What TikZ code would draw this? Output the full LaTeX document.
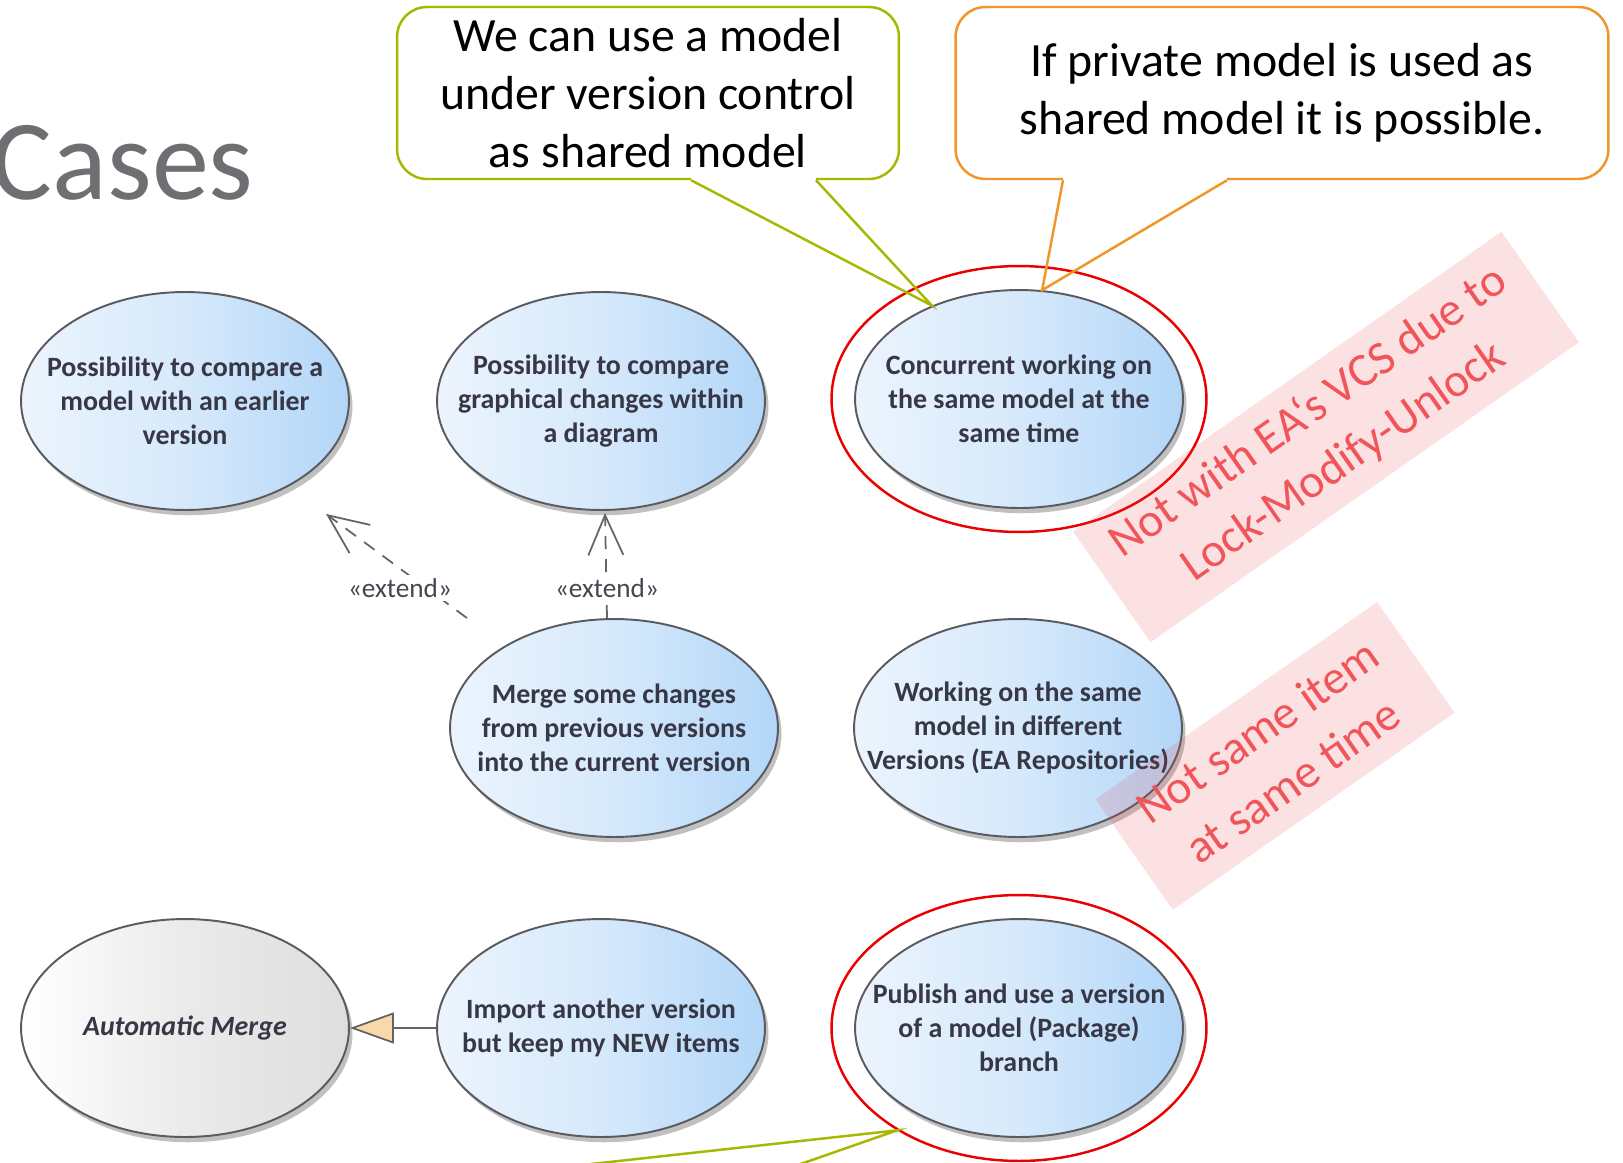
\documentclass[tikz,border=0pt]{standalone}
\usepackage{fontspec}
\setmainfont{Carlito}
\usetikzlibrary{arrows.meta,calc,shadows,shapes.geometric}

\definecolor{caseline}{RGB}{90,90,95}
\definecolor{casetext}{RGB}{55,55,70}
\definecolor{caseleft}{RGB}{236,244,253}
\definecolor{casemid}{RGB}{214,233,251}
\definecolor{caseright}{RGB}{178,214,248}
\definecolor{mergeright}{RGB}{222,222,222}
\definecolor{labeltext}{RGB}{70,70,80}
\definecolor{linegray}{RGB}{100,100,100}
\definecolor{genfill}{RGB}{248,218,170}
\definecolor{ringred}{RGB}{235,0,0}
\definecolor{calloutgreen}{RGB}{166,184,0}
\definecolor{calloutorange}{RGB}{240,150,40}
\definecolor{stampred}{RGB}{240,60,70}
\definecolor{stamptext}{RGB}{240,85,90}
\definecolor{titlegray}{RGB}{110,111,114}

\begin{document}
\begin{tikzpicture}[
	x=0.02cm, y=-0.02cm,
	usecase/.style={
		ellipse,
		draw=caseline,
		line width=1.1pt,
		minimum width=6.56cm,
		minimum height=4.36cm,
		inner xsep=-1cm,
		inner ysep=0pt,
		align=center,
		text=casetext,
		left color=caseleft,
		right color=caseright,
		middle color=casemid,
		drop shadow={shadow xshift=2pt, shadow yshift=-3pt, opacity=0.35, fill=black!70},
		font=\fontsize{15.9}{19.3}\selectfont\bfseries
	},
	abstract/.style={
		usecase,
		left color=white,
		right color=mergeright,
		middle color=white!92!black,
		font=\fontsize{15.9}{19.3}\selectfont\bfseries\itshape
	},
	ring/.style={
		ellipse,
		draw=ringred,
		line width=1.4pt,
		minimum width=7.5cm,
		minimum height=5.32cm
	},
	extendline/.style={
		draw=linegray,
		line width=1pt,
		dash pattern=on 0.26cm off 0.2cm,
		-{Straight Barb[length=0.8cm, width=0.7cm, line width=1pt]}
	},
	extlabel/.style={
		fill=white,
		inner sep=2pt,
		text=labeltext,
		font=\fontsize{15.5}{18}\selectfont
	},
	genline/.style={
		draw=linegray,
		line width=1.5pt,
		-{Triangle[length=0.88cm, width=0.62cm, fill=genfill, line width=1pt]}
	},
	callout/.style={
		draw,
		rectangle,
		rounded corners=0.6cm,
		line width=1.4pt,
		fill=white,
		align=center,
		minimum height=3.44cm,
		font=\fontsize{27.2}{32.9}\selectfont
	},
	pointer/.style={
		line width=1.4pt,
		line join=miter
	},
	stamp/.style={
		rectangle,
		fill=stampred,
		fill opacity=0.15,
		text opacity=1,
		text=stamptext,
		align=center,
		inner sep=0pt,
		minimum height=2.7cm,
		rotate=35,
		font=\fontsize{27}{34.6}\selectfont
	}
]
\useasboundingbox (0,0) rectangle (1623,1163);
\clip (0,0) rectangle (1623,1163);
\fill[white] (0,0) rectangle (1623,1163);

\node[anchor=base east, inner sep=0pt, text=titlegray, font=\fontsize{65}{65}\selectfont] (title) at (254,199) {Cases};

\node[usecase] (cmpmodel) at (185,401) {Possibility to compare a\\model with an earlier\\version};
\node[usecase] (cmpdiag) at (601,401) {Possibility to compare\\graphical changes within\\a diagram};
\node[usecase] (concurrent) at (1019,399) {Concurrent working on\\the same model at the\\same time};
\node[usecase] (merge) at (614,728) {Merge some changes\\from previous versions\\into the current version};
\node[usecase] (versions) at (1018,728) {Working on the same\\model in different\\Versions (EA Repositories)};
\node[abstract] (automerge) at (185,1028) {Automatic Merge};
\node[usecase] (import) at (601,1028) {Import another version\\but keep my NEW items};
\node[usecase] (publish) at (1019,1028) {Publish and use a version\\of a model (Package)\\branch};

\node[ring] (concring) at (concurrent) {};
\node[ring] (pubring) at (publish) {};

\draw[extendline] ($(merge.north)+(-147,0)$) -- ($(cmpmodel.south)+(141,3)$);
\draw[extendline] ($(merge.north)+(-7,0)$) -- ($(cmpdiag.south)+(4,2)$);
\node[extlabel] (ext1) at (400,588) {«extend»};
\node[extlabel] (ext2) at (607,588) {«extend»};

\draw[genline] (import) -- (automerge);

\node[callout, draw=calloutgreen, minimum width=10.04cm] (vcnote) at (648,93) {We can use a model\\under version control\\as shared model};
\node[callout, draw=calloutorange, minimum width=13.06cm] (privnote) at (1282,93) {If private model is used as\\shared model it is possible.};

\fill[white] ($(vcnote.south)+(43,-4)$) rectangle ($(vcnote.south)+(168,2)$);
\draw[pointer, calloutgreen] ($(vcnote.south)+(43,0)$) -- (concurrent.133) -- ($(vcnote.south)+(168,0)$);
\fill[white] ($(privnote.south)+(-219,-4)$) rectangle ($(privnote.south)+(-55,2)$);
\draw[pointer, calloutorange] ($(privnote.south)+(-219,0)$) -- (concurrent.78) -- ($(privnote.south)+(-55,0)$);

\coordinate (lowbase1) at (491,1175);
\coordinate (lowbase2) at (769,1175);
\draw[pointer, calloutgreen] (lowbase1) -- (pubring.220) -- (lowbase2);

\node[stamp, minimum width=10.46cm] (lockstamp) at (1326,437) {Not with EA‘s VCS due to\\Lock-Modify-Unlock};
\node[stamp, minimum width=6.88cm] (itemstamp) at (1275,756) {Not same item\\at same time};

\end{tikzpicture}
\end{document}
